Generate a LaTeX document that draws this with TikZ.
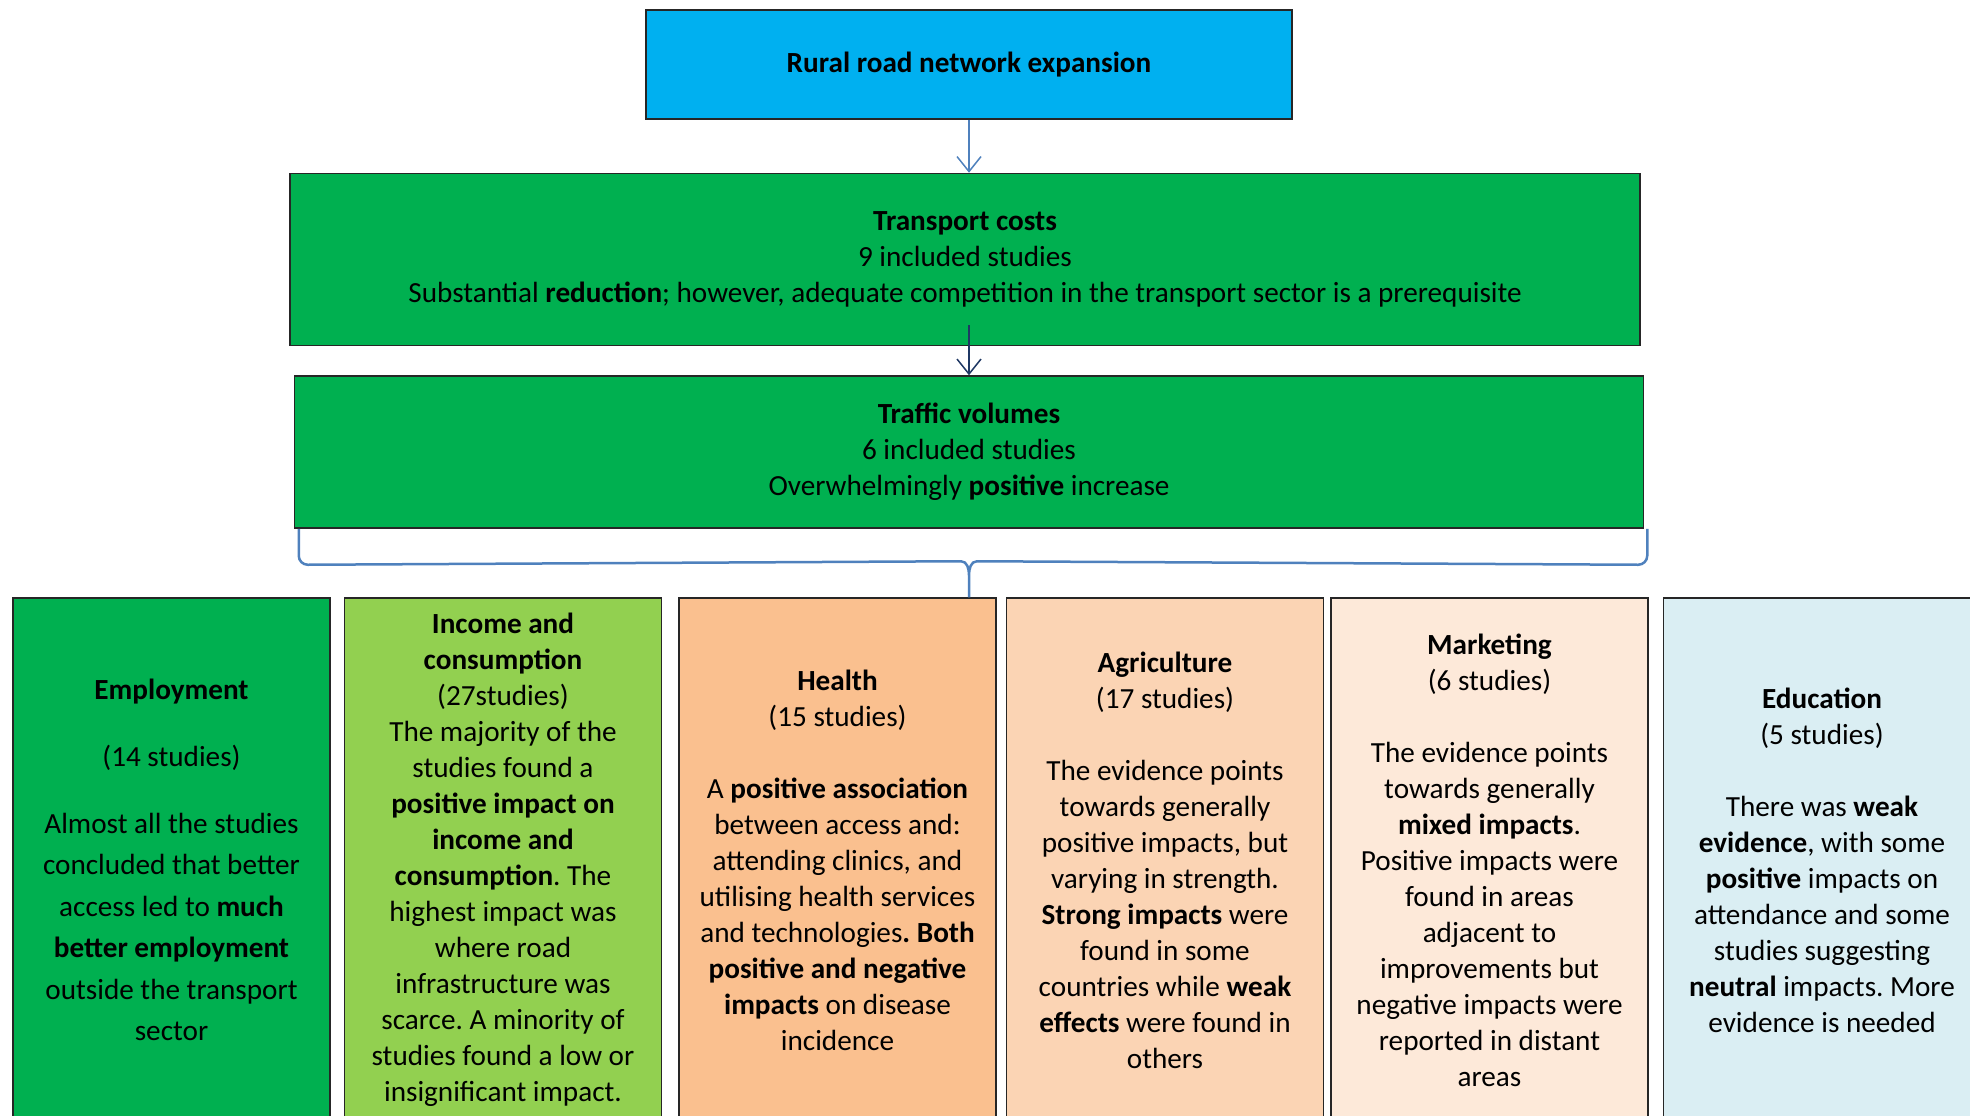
\documentclass[tikz,border=0pt]{standalone}
\usepackage{fontspec}
\setmainfont{Carlito}
\frenchspacing
\usetikzlibrary{arrows.meta,positioning,calc}
\definecolor{roadblue}{HTML}{00B0F0}
\definecolor{costgreen}{HTML}{00B050}
\definecolor{incomegreen}{HTML}{92D050}
\definecolor{healthorange}{HTML}{FAC08F}
\definecolor{agripeach}{HTML}{FBD4B4}
\definecolor{marketpeach}{HTML}{FDE9D9}
\definecolor{edublue}{HTML}{DAEEF3}
\definecolor{linkblue}{HTML}{4F81BD}
\definecolor{linknavy}{HTML}{1F3864}

\begin{document}
\begin{tikzpicture}[x=1pt, y=-1pt,
    node distance=12pt,
    every node/.style={font=\fontsize{29.2}{36}\selectfont},
    box/.style={draw=black!85, line width=1.5pt, align=center, inner sep=0pt},
    topic/.style={box, minimum width=317pt, minimum height=524pt},
    link/.style={-{Straight Barb[length=15pt,width=24pt]}, line width=1.5pt},
    brace/.style={draw=linkblue, line width=2.5pt}]
  \useasboundingbox (0,0) rectangle (1970,1116);
  \clip (0,0) rectangle (1970,1116);

  % chain at the top
  \node[box, fill=roadblue, minimum width=646pt, minimum height=109pt] (rural) at (969,64.5)
    {\textbf{Rural road network expansion}};
  \node[box, fill=costgreen, minimum width=1350pt, minimum height=172pt, below=53pt of rural, xshift=-4pt] (cost)
    {\textbf{Transport costs}\\9 included studies\\Substantial \textbf{reduction}; however, adequate competition in the transport sector is a prerequisite};
  \node[box, fill=costgreen, minimum width=1349pt, minimum height=152pt, below=29pt of cost, xshift=4pt] (traffic)
    {\textbf{Traffic volumes}\\6 included studies\\Overwhelmingly \textbf{positive} increase};

  % outcome boxes
  \node[topic, fill=costgreen, font=\fontsize{29.2}{41.5}\selectfont] (employ) at (171.5,860)
    {\textbf{Employment}\\[26pt](14 studies)\\[25pt]Almost all the studies\\concluded that better\\access led to \textbf{much}\\\textbf{better employment}\\outside the transport\\sector};
  \node[topic, fill=incomegreen, right=13pt of employ] (income)
    {\textbf{Income and}\\\textbf{consumption}\\(27studies)\\The majority of the\\studies found a\\\textbf{positive impact on}\\\textbf{income and}\\\textbf{consumption}. The\\highest impact was\\where road\\infrastructure was\\scarce. A minority of\\studies found a low or\\insignificant impact.};
  \node[topic, fill=healthorange, right=16pt of income] (health)
    {\textbf{Health}\\(15 studies)\\[36pt]A \textbf{positive association}\\between access and:\\attending clinics, and\\utilising health services\\and technologies\textbf{. Both}\\\textbf{positive and negative}\\\textbf{impacts} on disease\\incidence};
  \node[topic, fill=agripeach, right=9pt of health] (agri)
    {\textbf{Agriculture}\\(17 studies)\\[36pt]The evidence points\\towards generally\\positive impacts, but\\varying in strength.\\\textbf{Strong impacts} were\\found in some\\countries while \textbf{weak}\\\textbf{effects} were found in\\others};
  \node[topic, fill=marketpeach, right=6pt of agri] (market)
    {\textbf{Marketing}\\(6 studies)\\[36pt]The evidence points\\towards generally\\\textbf{mixed impacts}.\\Positive impacts were\\found in areas\\adjacent to\\improvements but\\negative impacts were\\reported in distant\\areas};
  \node[topic, fill=edublue, right=14pt of market] (edu)
    {\textbf{Education}\\(5 studies)\\[36pt]There was \textbf{weak}\\\textbf{evidence}, with some\\\textbf{positive} impacts on\\attendance and some\\studies suggesting\\\textbf{neutral} impacts. More\\evidence is needed};

  % arrows and the brace
  \draw[link, linkblue] (rural.south) -- (rural.south |- cost.north);
  \draw[link, linknavy] ([yshift=21pt]rural.south |- cost.south) -- (rural.south |- traffic.north);
  \coordinate (tip) at (rural.south |- health.north);
  \draw[brace]
    ([xshift=5pt]traffic.south west) -- ++(0,27) to[out=-90,in=180] ++(9,9)
    -- ($(tip)+(-8,-36)$) to[out=0,in=90] ($(tip)+(0,-22)$) -- (tip)
    -- ($(tip)+(0,-22)$) to[out=90,in=180] ($(tip)+(8,-36)$)
    -- ($(traffic.south east)+(-6,36)$) to[out=0,in=-90] ++(9,-9) -- ([xshift=3pt]traffic.south east);
\end{tikzpicture}
\end{document}
